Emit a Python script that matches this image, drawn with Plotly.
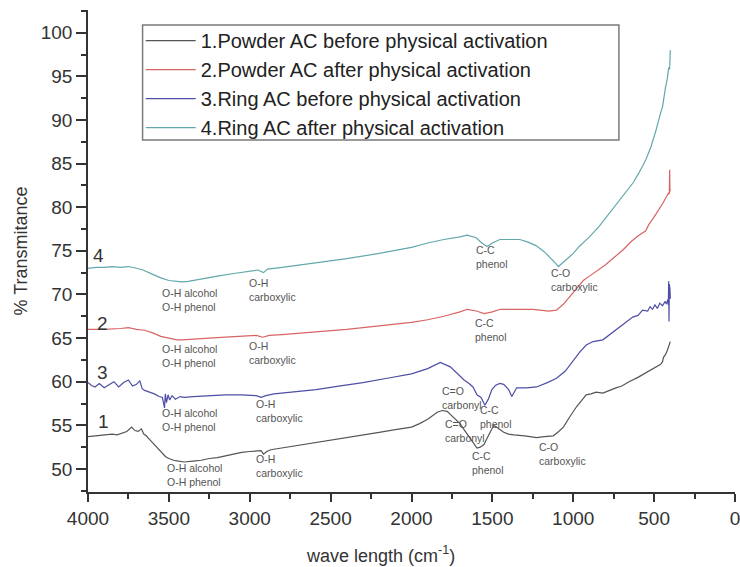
import plotly.graph_objects as go

# FTIR spectra: wavenumber (cm^-1) and % transmittance for each sample
names = [
    "1.Powder AC before physical activation",
    "2.Powder AC after physical activation",
    "3.Ring AC before physical activation",
    "4.Ring AC after physical activation",
]
colors = ["#555555", "#d86464", "#4e4ea6", "#62a8aa"]

wn_powder_before = [4000, 3950, 3900, 3850, 3820, 3790, 3760, 3730, 3710, 3690, 3670, 3655,
                    3640, 3620, 3600, 3580, 3560, 3540, 3520, 3500, 3470, 3440, 3405, 3350,
                    3300, 3250, 3200, 3150, 3100, 3050, 3000, 2960, 2930, 2915, 2895, 2870,
                    2800, 2700, 2600, 2500, 2400, 2300, 2200, 2100, 2000, 1950, 1900, 1841,
                    1810, 1780, 1736, 1700, 1675, 1640, 1613, 1595, 1575, 1552, 1525, 1491,
                    1460, 1430, 1400, 1368, 1300, 1227, 1180, 1123, 1090, 1061, 1024, 981,
                    950, 920, 890, 859, 817, 780, 736, 700, 655, 600, 552, 520, 490, 460,
                    448, 442, 430, 418, 400]
t_powder_before = [53.7, 53.8, 53.9, 54.0, 53.9, 54.1, 54.3, 54.8, 54.4, 54.3, 54.6, 54.0,
                   53.8, 53.4, 53.0, 52.6, 52.2, 51.7, 51.4, 51.2, 51.0, 50.9, 50.8, 50.9,
                   51.0, 51.2, 51.3, 51.5, 51.7, 51.9, 52.0, 52.1, 52.1, 51.7, 52.0, 52.2,
                   52.4, 52.7, 53.0, 53.3, 53.6, 53.9, 54.2, 54.5, 54.8, 55.2, 55.7, 56.5,
                   56.7, 56.6, 55.8, 55.2, 54.5, 53.6, 52.8, 52.4, 52.5, 52.8, 53.8, 55.0,
                   54.6, 54.2, 54.0, 53.9, 53.8, 53.6, 53.7, 53.8, 54.3, 54.8, 55.9, 57.1,
                   57.8, 58.5, 58.6, 58.8, 58.7, 59.0, 59.3, 59.5, 60.0, 60.5, 61.0, 61.4,
                   61.7, 62.0, 62.3, 62.8, 63.1, 63.6, 64.6]

wn_powder_after = [4000, 3900, 3800, 3750, 3700, 3650, 3600, 3550, 3500, 3450, 3420, 3350,
                   3250, 3150, 3050, 2960, 2920, 2880, 2800, 2600, 2400, 2200, 2000, 1900,
                   1800, 1700, 1656, 1600, 1550, 1500, 1450, 1350, 1250, 1150, 1104, 1060,
                   1024, 980, 938, 900, 859, 800, 750, 693, 640, 600, 552, 533, 500, 470,
                   448, 430, 412, 406, 404, 402, 400]
t_powder_after = [66.0, 66.0, 66.1, 66.2, 66.0, 65.9, 65.6, 65.2, 65.0, 64.8, 64.8, 64.9,
                  65.0, 65.1, 65.2, 65.3, 65.1, 65.3, 65.4, 65.7, 66.0, 66.4, 66.8, 67.1,
                  67.5, 68.0, 68.3, 68.1, 67.8, 68.0, 68.3, 68.3, 68.3, 68.1, 68.2, 68.9,
                  69.7, 70.7, 71.6, 72.1, 72.6, 73.4, 74.2, 75.1, 76.1, 76.7, 77.3, 78.0,
                  78.9, 79.7, 80.4, 81.0, 81.6, 81.5, 84.3, 81.8, 82.0]

wn_ring_before = [4000, 3980, 3957, 3930, 3900, 3870, 3840, 3810, 3780, 3750, 3725, 3700,
                  3680, 3665, 3650, 3620, 3590, 3560, 3540, 3530, 3527, 3522, 3515, 3505,
                  3495, 3480, 3460, 3430, 3405, 3350, 3250, 3150, 3050, 2960, 2930, 2900,
                  2850, 2700, 2590, 2450, 2300, 2150, 2000, 1900, 1822, 1760, 1718, 1675,
                  1644, 1620, 1595, 1570, 1546, 1525, 1503, 1480, 1454, 1430, 1399, 1380,
                  1365, 1350, 1290, 1227, 1160, 1104, 1050, 1000, 960, 920, 877, 817, 780,
                  736, 690, 632, 600, 571, 540, 525, 510, 495, 480, 465, 448, 432, 424,
                  416, 412, 410, 408, 406, 404, 402, 400]
t_ring_before = [59.9, 59.6, 59.4, 59.8, 59.3, 59.7, 60.0, 59.4, 59.9, 60.2, 59.5, 59.7,
                 60.1, 59.2, 59.0, 58.8, 58.6, 58.3, 58.2, 57.3, 57.0, 58.6, 57.6, 58.5,
                 57.9, 58.4, 58.0, 58.3, 58.2, 58.3, 58.4, 58.5, 58.5, 58.4, 58.2, 58.4,
                 58.6, 58.9, 59.1, 59.5, 59.9, 60.4, 60.9, 61.5, 62.2, 61.7, 61.0, 60.2,
                 59.8, 59.4, 58.5, 58.2, 57.3, 58.0, 59.1, 59.6, 59.8, 59.7, 59.1, 58.3,
                 58.8, 59.3, 59.3, 59.4, 59.9, 60.4, 61.2, 62.5, 63.4, 64.2, 64.6, 64.8,
                 65.3, 65.9, 66.6, 67.4, 67.6, 68.2, 68.1, 68.6, 68.3, 68.8, 68.4, 69.0,
                 68.7, 69.2, 68.9, 69.4, 68.8, 71.5, 66.9, 71.2, 67.3, 70.6, 69.5]

wn_ring_after = [4000, 3950, 3900, 3850, 3800, 3750, 3700, 3660, 3600, 3550, 3500, 3460,
                 3420, 3380, 3300, 3200, 3100, 3000, 2950, 2915, 2890, 2800, 2600, 2400,
                 2200, 2000, 1900, 1800, 1700, 1656, 1600, 1565, 1533, 1500, 1454, 1400,
                 1330, 1280, 1230, 1180, 1140, 1110, 1092, 1060, 1043, 1000, 963, 900,
                 840, 798, 750, 718, 675, 630, 595, 552, 520, 490, 460, 448, 430, 418,
                 410, 404, 400]
t_ring_after = [73.0, 73.1, 73.1, 73.2, 73.1, 73.2, 73.0, 72.8, 72.3, 71.9, 71.6, 71.5,
                71.45, 71.5, 71.8, 72.1, 72.4, 72.7, 72.8, 72.5, 72.9, 73.1, 73.6, 74.1,
                74.7, 75.4, 75.9, 76.3, 76.6, 76.8, 76.5, 75.9, 75.5, 75.9, 76.3, 76.3,
                76.3, 76.0, 75.6, 74.9, 74.2, 73.6, 73.2, 73.7, 74.0, 74.7, 75.5, 76.6,
                77.8, 78.8, 79.9, 80.6, 81.6, 82.8, 83.9, 85.4, 86.9, 88.7, 90.8, 91.5,
                93.7, 94.8, 96.0, 95.8, 98.0]

series_wn = [wn_powder_before, wn_powder_after, wn_ring_before, wn_ring_after]
series_t = [t_powder_before, t_powder_after, t_ring_before, t_ring_after]

# Curve numbers shown at the left end of each spectrum
curve_tags = ["1", "2", "3", "4"]
tag_wn = [3905, 3910, 3910, 3935]
tag_t = [55.4, 66.7, 61.1, 74.5]

# Band assignments: (wavenumber of left edge, transmittance at text centre, label)
band_wn = [3527, 2975, 1804, 1638, 1227,
           3552, 3018, 1620,
           3552, 2975, 1822, 1589,
           3552, 3018, 1613, 1147]
band_t = [49.3, 50.3, 54.3, 50.7, 51.7,
          63.0, 63.3, 65.9,
          55.6, 56.6, 58.1, 56.0,
          69.4, 70.5, 74.3, 71.7]
band_text = ["O-H alcohol<br>O-H phenol", "O-H<br>carboxylic", "C=O<br>carbonyl",
             "C-C<br>phenol", "C-O<br>carboxylic",
             "O-H alcohol<br>O-H phenol", "O-H<br>carboxylic", "C-C<br>phenol",
             "O-H alcohol<br>O-H phenol", "O-H<br>carboxylic", "C=O<br>carbonyl",
             "C-C<br>phenol",
             "O-H alcohol<br>O-H phenol", "O-H<br>carboxylic", "C-C<br>phenol",
             "C-O<br>carboxylic"]

x_ticks = [4000, 3500, 3000, 2500, 2000, 1500, 1000, 500, 0]
y_ticks = [50, 55, 60, 65, 70, 75, 80, 85, 90, 95, 100]

fig = go.Figure()
for name, color, wn, t in zip(names, colors, series_wn, series_t):
    fig.add_trace(go.Scatter(x=wn, y=t, mode="lines", name=name,
                             line=dict(color=color, width=1.2)))

for tag, x, y in zip(curve_tags, tag_wn, tag_t):
    fig.add_annotation(x=x, y=y, text=tag, showarrow=False,
                       font=dict(size=19, color="#333333"))

for x, y, txt in zip(band_wn, band_t, band_text):
    fig.add_annotation(x=x, y=y, text=txt, showarrow=False, xanchor="left",
                       yanchor="middle", align="left",
                       font=dict(size=10.5, color="#555555"))

axis_font = dict(family="Liberation Sans, Arial", size=19, color="#333333")
title_font = dict(family="Liberation Sans, Arial", size=18, color="#333333")

# x-axis title, centred under the spectra
fig.add_annotation(xref="paper", yref="paper", x=0.452, y=-0.13, xanchor="center",
                   yanchor="middle", showarrow=False,
                   text="wave length (cm<sup>-1</sup>)", font=title_font)

# legend frame
fig.add_shape(type="rect", xref="paper", yref="paper",
              x0=(143 - 88) / 652, x1=(623 - 88) / 652,
              y0=(492 - 140) / 482, y1=(492 - 25) / 482,
              line=dict(color="#7a7a7a", width=1.5), fillcolor="rgba(0,0,0,0)")

fig.update_layout(
    width=740, height=567,
    margin=dict(l=88, r=0, t=10, b=75),
    paper_bgcolor="white", plot_bgcolor="white",
    font=dict(family="Liberation Sans, Arial", color="#222222"),
    showlegend=True,
    legend=dict(x=0.0815, y=0.977, xanchor="left", yanchor="top",
                borderwidth=0, bgcolor="rgba(0,0,0,0)",
                font=dict(size=20, color="#222222"), itemwidth=50,
                tracegroupgap=0),
    xaxis=dict(range=[4000, 0], tickvals=x_ticks, ticks="outside", ticklen=8,
               tickwidth=1.5, tickcolor="#333333", showline=True,
               linecolor="#333333", linewidth=1.5, showgrid=False, zeroline=False,
               tickfont=axis_font, ticklabeloverflow="allow",
               minor=dict(dtick=250, ticks="outside", ticklen=5, tickwidth=1.5,
                          tickcolor="#333333", showgrid=False)),
    yaxis=dict(range=[47.36, 102.6], tickvals=y_ticks, ticks="outside", ticklen=10,
               tickwidth=1.5, tickcolor="#333333", showline=True,
               linecolor="#333333", linewidth=1.5, showgrid=False, zeroline=False,
               tickfont=axis_font,
               minor=dict(dtick=2.5, ticks="outside", ticklen=5, tickwidth=1.5,
                          tickcolor="#333333", showgrid=False),
               title=dict(text="% Transmitance", font=title_font, standoff=8)),
)

fig.write_html("out.html")
